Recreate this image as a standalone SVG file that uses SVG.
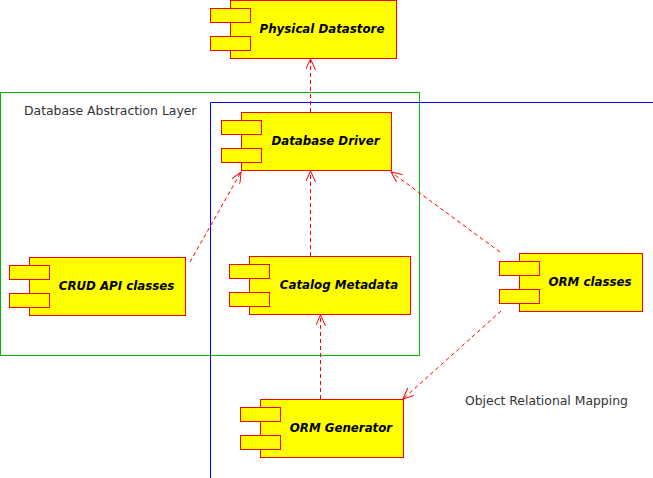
<svg xmlns="http://www.w3.org/2000/svg" width="653" height="478" viewBox="0 0 653 478">
<defs>
<style>
.body{fill:#ffff00;stroke:#ff0000;stroke-width:1}
.tab{fill:#ffff00;stroke:#ff0000;stroke-width:1}
.name{font-family:"DejaVu Sans",sans-serif;font-size:11.8px;font-weight:bold;font-style:italic;fill:#000;text-anchor:middle}
.lbl{font-family:"DejaVu Sans",sans-serif;font-size:12.4px;fill:#333}
.dep{fill:none;stroke:#ff0000;stroke-width:1;stroke-dasharray:4,3}
</style>
<marker id="ah" viewBox="0 0 12 10" refX="11" refY="5" markerWidth="12" markerHeight="10" markerUnits="userSpaceOnUse" orient="auto">
<path d="M0,0 L11,5 L0,10" fill="none" stroke="#ff0000" stroke-width="1"/>
</marker>
</defs>
<rect width="653" height="478" fill="#fff"/>
<g id="dal">
<rect x="0.5" y="92.5" width="419" height="263" fill="none" stroke="#00bb00" stroke-width="1"/>
<text class="lbl" x="24" y="115">Database Abstraction Layer</text>
</g>
<g id="orm">
<path d="M210.5,478 V102.5 H653" fill="none" stroke="#0000ff" stroke-width="1"/>
<text class="lbl" x="465" y="405">Object Relational Mapping</text>
</g>
<g id="physical">
<rect class="body" x="230.5" y="0.5" width="166" height="58"/>
<rect class="tab" x="210.5" y="8.5" width="40" height="14"/>
<rect class="tab" x="210.5" y="36.5" width="40" height="14"/>
<text class="name" x="322" y="33">Physical Datastore</text>
</g>
<g id="driver">
<rect class="body" x="241.5" y="112.5" width="150" height="58"/>
<rect class="tab" x="221.5" y="120.5" width="40" height="14"/>
<rect class="tab" x="221.5" y="148.5" width="40" height="14"/>
<text class="name" x="325.5" y="145">Database Driver</text>
</g>
<g id="crud">
<rect class="body" x="29.5" y="257.5" width="156" height="58"/>
<rect class="tab" x="9.5" y="265.5" width="40" height="14"/>
<rect class="tab" x="9.5" y="293.5" width="40" height="14"/>
<text class="name" x="116.5" y="290">CRUD API classes</text>
</g>
<g id="catalog">
<rect class="body" x="249.5" y="256.5" width="161" height="58"/>
<rect class="tab" x="229.5" y="264.5" width="40" height="14"/>
<rect class="tab" x="229.5" y="292.5" width="40" height="14"/>
<text class="name" x="339" y="289">Catalog Metadata</text>
</g>
<g id="ormclasses">
<rect class="body" x="519.5" y="253.5" width="123" height="58"/>
<rect class="tab" x="499.5" y="261.5" width="40" height="14"/>
<rect class="tab" x="499.5" y="289.5" width="40" height="14"/>
<text class="name" x="590" y="286">ORM classes</text>
</g>
<g id="ormgen">
<rect class="body" x="260.5" y="399.5" width="143" height="58"/>
<rect class="tab" x="240.5" y="407.5" width="40" height="14"/>
<rect class="tab" x="240.5" y="435.5" width="40" height="14"/>
<text class="name" x="341" y="432">ORM Generator</text>
</g>
<g id="connectors">
<path class="dep" d="M310.5,112 V59" marker-end="url(#ah)"/>
<path class="dep" d="M190,262 L241,172" marker-end="url(#ah)"/>
<path class="dep" d="M310.5,256 V171" marker-end="url(#ah)"/>
<path class="dep" d="M500,252 L391,172" marker-end="url(#ah)"/>
<path class="dep" d="M320.5,399 V315" marker-end="url(#ah)"/>
<path class="dep" d="M501,311 L403,399" marker-end="url(#ah)"/>
</g>
</svg>
